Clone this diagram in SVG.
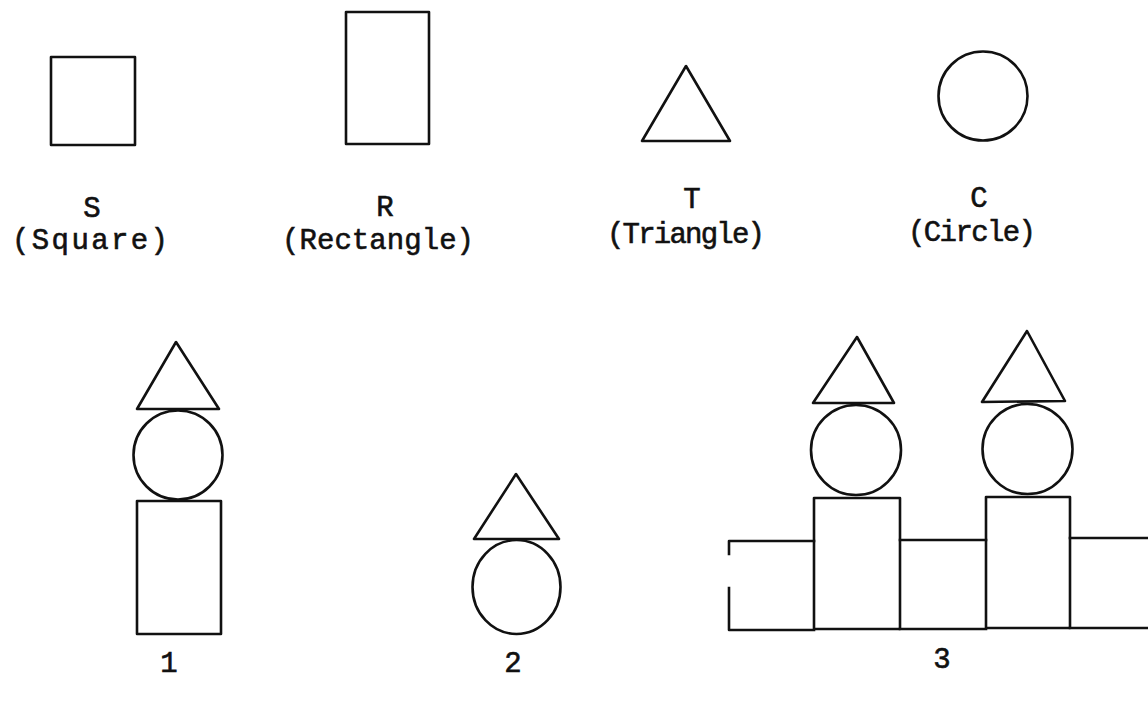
<svg xmlns="http://www.w3.org/2000/svg" width="1148" height="701" viewBox="0 0 1148 701">
<style>
.s{fill:none;stroke:#111;stroke-width:2.6;stroke-linejoin:round;stroke-linecap:square}
.t{font-family:"Liberation Mono","Courier New",monospace;font-size:29px;fill:#111;stroke:#111;stroke-width:0.6;text-anchor:middle}
</style>
<rect width="1148" height="701" fill="#fff"/>
<g id="legend-square">
<rect class="s" x="51" y="57" width="84" height="88"/>
<text class="t" x="92" y="217">S</text>
<text class="t" x="90" y="249" textLength="156" lengthAdjust="spacing">(Square)</text>
</g>
<g id="legend-rectangle">
<rect class="s" x="346" y="12" width="83" height="132"/>
<text class="t" x="385" y="216">R</text>
<text class="t" x="378" y="249" textLength="192" lengthAdjust="spacing">(Rectangle)</text>
</g>
<g id="legend-triangle">
<polygon class="s" points="686,66 642,141 730,141"/>
<text class="t" x="692" y="208">T</text>
<text class="t" x="686" y="243" textLength="158" lengthAdjust="spacing">(Triangle)</text>
</g>
<g id="legend-circle">
<circle class="s" cx="983" cy="96" r="44.5"/>
<text class="t" x="979" y="207">C</text>
<text class="t" x="972" y="241" textLength="128" lengthAdjust="spacing">(Circle)</text>
</g>
<g id="figure-1">
<polygon class="s" points="176,342 137,409 219,409"/>
<circle class="s" cx="178" cy="455" r="44.5"/>
<rect class="s" x="137" y="501" width="84" height="133"/>
<text class="t" x="169" y="672">1</text>
</g>
<g id="figure-2">
<polygon class="s" points="516,474 474,539 559,539"/>
<ellipse class="s" cx="516.5" cy="587" rx="44" ry="47"/>
<text class="t" x="513" y="672">2</text>
</g>
<g id="figure-3">
<polygon class="s" points="857,337 813,403 894,403"/>
<circle class="s" cx="856" cy="450" r="45"/>
<rect class="s" x="814" y="498" width="86" height="131"/>
<polygon class="s" points="1027,331 982,402 1065,401"/>
<circle class="s" cx="1027.5" cy="449" r="45"/>
<rect class="s" x="986" y="497" width="84" height="131"/>
<path class="s" d="M729 554 L729 541 L814 541 M729 588 L729 630 L814 630 M900 540 L986 540 M900 629 L986 629 M1070 538 L1150 538 M1070 628 L1150 628"/>
<text class="t" x="942" y="668">3</text>
</g>
</svg>
